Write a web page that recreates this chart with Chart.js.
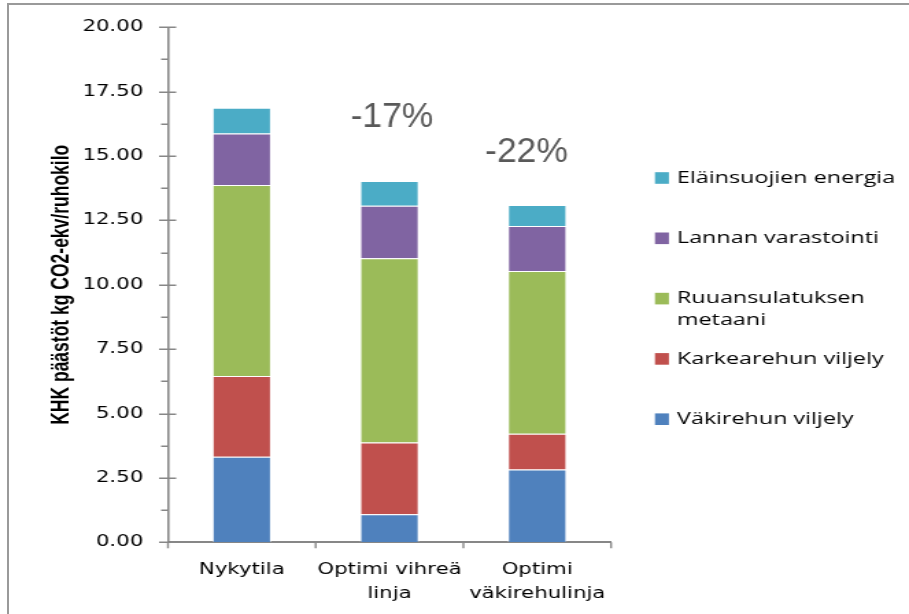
<!DOCTYPE html>
<html>
<head>
<meta charset="utf-8">
<script src="https://cdn.jsdelivr.net/npm/chart.js@4.4.0/dist/chart.umd.min.js"></script>
<style>
html, body { margin: 0; padding: 0; background: #fff; overflow: hidden; }
#frame { position: absolute; left: 7px; top: 3px; width: 940px; height: 660px; border: 2px solid #9a9a9a; box-sizing: border-box; }
/* chart is laid out narrow and stretched sideways like the original slide image */
#wrap { position: absolute; left: 0; top: 0; width: 663px; height: 614px; transform: scaleX(1.371); transform-origin: 0 0; }
</style>
</head>
<body>
<div id="frame"></div>
<div id="wrap"><canvas id="barChart" width="663" height="614"></canvas></div>
<script>
var STRETCH = 1.371;

// categories and series (kg CO2-ekv / ruhokilo)
var categories = [['Nykytila'], ['Optimi vihreä', 'linja'], ['Optimi', 'väkirehulinja']];
var vakirehu   = [3.32, 1.09, 2.83];
var karkearehu = [3.14, 2.79, 1.39];
var metaani    = [7.42, 7.15, 6.32];
var lanta      = [2.00, 2.04, 1.74];
var energia    = [1.00, 0.96, 0.82];
var seriesNames = ['Väkirehun viljely', 'Karkearehun viljely', ['Ruuansulatuksen', 'metaani'], 'Lannan varastointi', 'Eläinsuojien energia'];
var seriesColors = ['#4F81BD', '#C0504D', '#9BBB59', '#8064A2', '#4BACC6'];
var changeLabels = ['', '-17%', '-22%'];
var yTitle = 'KHK päästöt kg CO2-ekv/ruhokilo';

var seriesData = [vakirehu, karkearehu, metaani, lanta, energia];

function makeDatasets() {
    var sets = [];
    for (var i = 0; i < seriesData.length; i++) {
        var name = seriesNames[i];
        sets.push({
            label: Array.isArray(name) ? name.join(' ') : name,
            legendLines: Array.isArray(name) ? name : [name],
            data: seriesData[i],
            backgroundColor: seriesColors[i],
            borderColor: 'rgba(255,255,255,0.5)',
            borderWidth: 1,
            categoryPercentage: 0.8,
            barPercentage: 0.5
        });
    }
    return sets;
}

// axis tick marks: crossing majors, outside minors, category dividers below
var axisTicks = {
    id: 'axisTicks',
    afterDraw: function(chart) {
        var ctx = chart.ctx, ys = chart.scales.y, xs = chart.scales.x;
        var left = chart.chartArea.left, right = chart.chartArea.right, bottom = chart.chartArea.bottom;
        ctx.save();
        ctx.strokeStyle = '#878787';
        ctx.lineWidth = 1.5;
        for (var v = 0; v <= 20; v += 1.25) {
            var py = Math.round(ys.getPixelForValue(v)) + 0.25;
            var major = (v % 2.5 === 0);
            ctx.beginPath();
            ctx.moveTo(left - (major ? 6.5 : 5), py);
            ctx.lineTo(left + (major ? 6 : 0), py);
            ctx.stroke();
        }
        var n = xs.getLabels().length;
        var step = (right - left) / n;
        ctx.lineWidth = 1.4;
        for (var k = 0; k <= n; k++) {
            var px = left + k * step;
            ctx.beginPath();
            ctx.moveTo(px, bottom);
            ctx.lineTo(px, bottom + 6);
            ctx.stroke();
        }
        ctx.restore();
    }
};

// change percentages above the two optimised bars, drawn without the sideways stretch
var changeText = {
    id: 'changeText',
    afterDatasetsDraw: function(chart) {
        var ctx = chart.ctx, ys = chart.scales.y, xs = chart.scales.x;
        var dx = [0, 2.5, -10.7], dy = [0, 54, 43];
        ctx.save();
        ctx.fillStyle = '#595959';
        ctx.font = '35.5px "Liberation Sans", Arial, sans-serif';
        ctx.textAlign = 'center';
        ctx.textBaseline = 'alphabetic';
        for (var i = 0; i < changeLabels.length; i++) {
            if (!changeLabels[i]) continue;
            var total = 0;
            for (var s = 0; s < seriesData.length; s++) total += seriesData[s][i];
            var px = xs.getPixelForValue(i) + dx[i] / STRETCH;
            var py = ys.getPixelForValue(total) - dy[i];
            ctx.save();
            ctx.translate(px, py);
            ctx.scale(1 / STRETCH, 1);
            ctx.fillText(changeLabels[i], 0, 0);
            ctx.restore();
        }
        ctx.restore();
    }
};

// legend on the right, top item = top segment
var sideLegend = {
    id: 'sideLegend',
    afterDraw: function(chart) {
        var ctx = chart.ctx;
        var sets = chart.data.datasets;
        var boxX = 477.7, textX = 493.8, y0 = 178, gap = 60.3;
        ctx.save();
        ctx.font = '17px "Open Sans", sans-serif';
        ctx.fillStyle = '#000';
        ctx.textAlign = 'left';
        ctx.textBaseline = 'middle';
        for (var i = 0; i < sets.length; i++) {
            var ds = sets[sets.length - 1 - i];
            var cy = y0 + i * gap;
            ctx.fillStyle = ds.backgroundColor;
            ctx.fillRect(boxX, cy - 5.8, 10.2, 11.6);
            ctx.fillStyle = '#000';
            for (var l = 0; l < ds.legendLines.length; l++) {
                ctx.fillText(ds.legendLines[l], textX, cy + l * 22);
            }
        }
        ctx.restore();
    }
};

var ctx = document.getElementById('barChart').getContext('2d');
var chart = new Chart(ctx, {
    type: 'bar',
    data: {
        labels: categories,
        datasets: makeDatasets()
    },
    options: {
        responsive: false,
        animation: false,
        events: [],
        layout: { padding: { left: 35, top: 27.3, right: 217.3, bottom: 0 } },
        plugins: {
            legend: { display: false },
            tooltip: { enabled: false }
        },
        scales: {
            x: {
                stacked: true,
                grid: { display: false, drawTicks: false },
                border: { display: true, color: '#878787', width: 2 },
                ticks: {
                    color: '#000',
                    padding: 16,
                    maxRotation: 0,
                    autoSkip: false,
                    font: { family: '"DejaVu Sans", Verdana, sans-serif', size: 15.5, lineHeight: 1.55 }
                },
                afterFit: function(scale) { scale.height = 71.7; }
            },
            y: {
                stacked: true,
                min: 0,
                max: 20,
                grid: { display: false, drawTicks: false },
                border: { display: true, color: '#878787', width: 1.6 },
                ticks: {
                    stepSize: 2.5,
                    color: '#000',
                    padding: 18,
                    font: { family: '"DejaVu Sans", Verdana, sans-serif', size: 15.5 },
                    callback: function(v) { return Number(v).toFixed(2); }
                },
                title: {
                    display: true,
                    text: yTitle,
                    color: '#000',
                    padding: 0,
                    font: { family: '"Liberation Sans Narrow", "Liberation Sans", sans-serif', size: 17.5, weight: 'bold', lineHeight: 1.2 }
                },
                afterFit: function(scale) { scale.width = 87.5; }
            }
        }
    },
    plugins: [axisTicks, changeText, sideLegend]
});
</script>
</body>
</html>
